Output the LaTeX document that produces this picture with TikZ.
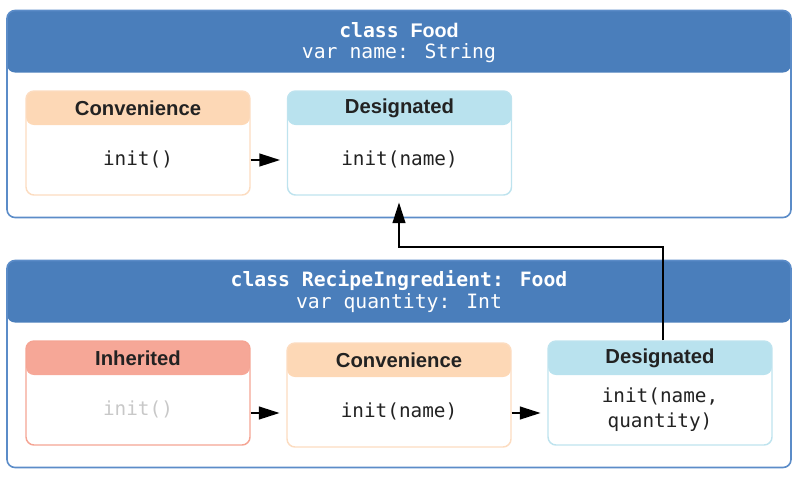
\documentclass[tikz,border=0pt]{standalone}
\usepackage{fontspec}
\setmainfont{Liberation Sans}
\newfontfamily\codefont{DejaVu Sans Mono}
\usetikzlibrary{arrows.meta}

\definecolor{classblue}{HTML}{4A7EBB}
\definecolor{classedge}{HTML}{5B8CC8}
\definecolor{convfill}{HTML}{FDD8B6}
\definecolor{convedge}{HTML}{FCDCC0}
\definecolor{desfill}{HTML}{B9E2EE}
\definecolor{desedge}{HTML}{BEE3EE}
\definecolor{inhfill}{HTML}{F6A797}
\definecolor{inhedge}{HTML}{F5A493}
\definecolor{inktext}{HTML}{222222}
\definecolor{fadetext}{HTML}{C8C8C8}

\tikzset{
  classbox/.style={draw=classedge, line width=1.2pt, rounded corners=6pt,
    minimum width=588pt, minimum height=155.25pt, inner sep=0pt,
    path picture={\fill[classblue] (path picture bounding box.north west)
      rectangle ([yshift=-46.5pt]path picture bounding box.north east);}},
  initbox/.style 2 args={draw=#2, line width=1.1pt, rounded corners=6pt,
    minimum width=168pt, minimum height=78pt, inner sep=0pt,
    path picture={\fill[#1] (path picture bounding box.north west)
      rectangle ([yshift=-25.5pt]path picture bounding box.north east);}},
  kind/.style={font=\fontsize{15.2}{18}\selectfont\bfseries, text=inktext},
  code/.style={font=\codefont\fontsize{14.5}{19}\selectfont, text=inktext, align=center},
  head/.style={font=\codefont\fontsize{14.8}{17}\selectfont, text=white},
  flow/.style={line width=1.5pt, -{Triangle[length=15.5pt,width=9.5pt]}},
}

\begin{document}
\begin{tikzpicture}[x=0.75pt, y=-0.75pt]
\useasboundingbox (0,0) rectangle (798,476);

% class Food
\node[classbox] (food) at (399,114) {};
\node[head] (foodname) at (399,30.5) {{\bfseries class }{\fontspec{Liberation Sans}\bfseries Food}};
\node[head] (foodvar) at (399,53.5) {var name: String};

\node[initbox={convfill}{convedge}] (fconv) at (138,143) {};
\node[kind] at (138,108) {Convenience};
\node[code] (fconvinit) at (138,159) {init()};

\node[initbox={desfill}{desedge}] (fdes) at (399.5,143) {};
\node[kind] at (399.5,108) {Designated};
\node[code] (fdesinit) at (399.5,159) {init(name)};

% class RecipeIngredient
\node[classbox] (recipe) at (399,364) {};
\node[head] (recipename) at (399,280.5) {\bfseries class RecipeIngredient: Food};
\node[head] (recipevar) at (399,303.5) {var quantity: Int};

\node[initbox={inhfill}{inhedge}] (rinh) at (138,393) {};
\node[kind] at (138,358) {Inherited};
\node[code, text=fadetext] (rinhinit) at (138,409) {init()};

\node[initbox={convfill}{convedge}] (rconv) at (399,395) {};
\node[kind] at (399,360) {Convenience};
\node[code] (rconvinit) at (399,411) {init(name)};

\node[initbox={desfill}{desedge}] (rdes) at (660,393) {};
\node[kind] at (660,358) {Designated};
\node[code] (rdesinit) at (660,410) {init(name,\\quantity)};

% delegation arrows
\coordinate (rowA) at (0,160);
\coordinate (rowB) at (0,413);
\draw[flow] (fconv.east |- rowA) -- ([xshift=-5pt]fdes.west |- rowA);
\draw[flow] (rinh.east |- rowB) -- ([xshift=-5pt]rconv.west |- rowB);
\draw[flow] (rconv.east |- rowB) -- ([xshift=-5pt]rdes.west |- rowB);
\coordinate (bendR) at (663,247);
\coordinate (bendL) at (399,247);
\draw[flow] ([xshift=2.25pt]rdes.north) -- (bendR) -- (bendL) -- ([yshift=-5pt]fdes.south -| bendL);
\end{tikzpicture}
\end{document}
